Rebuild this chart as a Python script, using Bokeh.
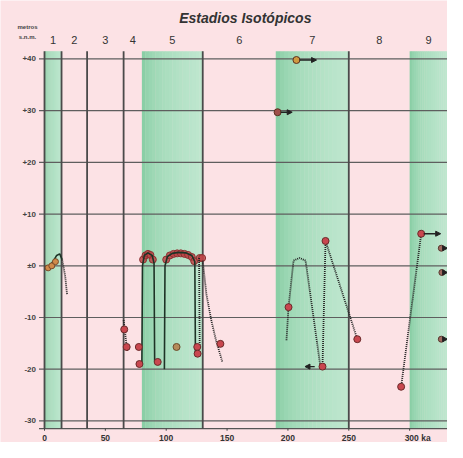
import numpy as np
from bokeh.plotting import figure
from bokeh.models import ColumnDataSource, Arrow, NormalHead
from bokeh.core.properties import value
from bokeh.embed import file_html
from bokeh.resources import INLINE

# ---------------- data ----------------
stage_labels = ["1", "2", "3", "4", "5", "6", "7", "8", "9"]
stage_bounds = [0, 14, 35, 65, 80, 130, 190, 250, 300, 331]
warm_start = [0, 80, 190, 300]
warm_end = [14, 130, 250, 331.2]
boundary_lines = [0, 14, 35, 65, 130, 250]

y_ticks = [40, 30, 20, 10, 0, -10, -20, -30]
y_tick_labels = ["+40", "+30", "+20", "+10", "±0", "-10", "-20", "-30"]
x_ticks = [0, 50, 100, 150, 200, 250, 300]
x_tick_labels = ["0", "50", "100", "150", "200", "250", "300 ka"]

# stage 1
s1_line_ka = [1, 4, 7, 10, 12.5, 14.5]
s1_line_m = [-0.3, 0.0, 0.8, 2.0, 2.3, 1.2]
s1_drop_ka = [14.5, 17, 18.5]
s1_drop_m = [1.2, -2.0, -5.5]
s1_pts_ka = [3, 6, 9]
s1_pts_m = [-0.4, 0.0, 0.8]

# stage 4
s4_drop_ka = [65, 66.5, 68]
s4_drop_m = [-10.5, -13.5, -16.5]
s4_pts_ka = [65.5, 67.5]
s4_pts_m = [-12.3, -15.7]

# stage 5
s5a_ka = [80, 80.5, 82, 85, 88.5, 90, 90.5]
s5a_m = [-19, 0, 2.0, 2.5, 2.0, 0.5, -18.5]
s5b_ka = [98.5, 99, 101, 105, 110, 116, 121, 123.5, 124]
s5b_m = [-20, 0, 1.8, 2.4, 2.6, 2.5, 2.0, 0.8, -17]
s5c_ka = [127, 127.5]
s5c_m = [1.5, -15.5]
s56_ka = [130, 133, 137, 141, 146]
s56_m = [1.0, -5.5, -10.5, -14.5, -18.5]
s5_cap_ka = [81, 83, 85, 87, 89, 100, 103, 106, 109, 112, 115, 118, 121, 123, 127.5, 129.5]
s5_cap_m = [1.2, 2.0, 2.3, 2.1, 1.2, 1.2, 2.0, 2.3, 2.4, 2.4, 2.3, 2.1, 1.7, 0.9, 1.5, 1.5]
s5_pts_ka = [77.5, 78, 93, 125.5, 125.8, 144.5]
s5_pts_m = [-15.7, -19, -18.6, -15.7, -17, -15.1]
s5_tan_ka = [108.5]
s5_tan_m = [-15.7]

# stage 7
s7_ka = [198.8, 200.5, 204.6, 209.5, 214.5, 226.8, 228.4, 230.9, 257]
s7_m = [-14.4, -8, 1, 1.5, 1, -19.7, -19.5, 4.8, -14.2]
s7_pts_ka = [200.5, 228.4, 230.9, 257]
s7_pts_m = [-8, -19.5, 4.8, -14.2]
hi_ka = [191.5, 207]
hi_m = [29.7, 39.8]
hi_arrow_end = [203.5, 223.5]
low_arrow_ka = [222, 214]
low_arrow_m = -19.5

# stage 9
s9_ka = [293, 309.5]
s9_m = [-23.4, 6.2]
s9_arrow_end = 325.5
edge_ka = [326, 326.5, 326]
edge_m = [3.4, -1.3, -14.2]
edge_arrow_end = 331.2

# ---------------- layout constants ----------------
PINK = "#fce2e5"
Y_BOTTOM = -31.5
BAND_TOP = 41.5
GRID_X0 = -4.5
GRID_X1 = 331.2
FONT = value("Liberation Sans")

p = figure(width=447, height=442, x_range=(-36.15, 331.1), y_range=(-34.18, 51.31),
           output_backend="svg", toolbar_location=None,
           min_border_left=0, min_border_right=0, min_border_top=0, min_border_bottom=0)
p.background_fill_color = PINK
p.border_fill_color = PINK
p.outline_line_color = None
p.xgrid.visible = False
p.ygrid.visible = False
p.xaxis.visible = False
p.yaxis.visible = False


def hex2rgb(h):
    return np.array([int(h[i:i + 2], 16) for i in (1, 3, 5)], dtype=float)


c0 = hex2rgb("#7ac899")
c1 = hex2rgb("#bfe7cf")
L, R, C = [], [], []
for a, b in zip(warm_start, warm_end):
    n = 18
    edges = np.linspace(a, b, n + 1)
    for i in range(n):
        t = ((i + 0.5) / n) ** 0.4
        col = c0 + (c1 - c0) * t
        L.append(edges[i])
        R.append(edges[i + 1] + 0.3)
        C.append("#%02x%02x%02x" % tuple(int(round(v)) for v in col))
p.quad(left=L, right=R, bottom=Y_BOTTOM, top=BAND_TOP, fill_color=C, line_color=None)

# grid lines
p.segment(x0=[GRID_X0] * len(y_ticks), x1=[GRID_X1] * len(y_ticks), y0=y_ticks, y1=y_ticks,
          line_color="#5e5e5e", line_width=1.2)
p.segment(x0=[GRID_X0], x1=[GRID_X1], y0=[Y_BOTTOM], y1=[Y_BOTTOM], line_color="#555555", line_width=1.3)
p.segment(x0=boundary_lines, x1=boundary_lines, y0=[Y_BOTTOM] * len(boundary_lines),
          y1=[BAND_TOP] * len(boundary_lines), line_color="#4a4a4a", line_width=1.8)
# x ticks
p.segment(x0=x_ticks, x1=x_ticks, y0=[Y_BOTTOM] * len(x_ticks), y1=[Y_BOTTOM - 0.4] * len(x_ticks),
          line_color="#444444", line_width=1)

# y tick labels
p.text(x=[-7] * len(y_ticks), y=y_ticks, text=y_tick_labels, text_font=FONT, text_font_size="8px",
       text_font_style="bold", text_color="#444444", text_align="right", text_baseline="middle")
p.text(x=[-14, -14], y=[46.2, 44.3], text=["metros", "s.n.m."], text_font=FONT, text_font_size="6px",
       text_font_style="bold", text_color="#444444", text_align="center", text_baseline="middle")
# x tick labels
p.text(x=x_ticks, y=[-33.3] * len(x_ticks), text=x_tick_labels, text_font=FONT, text_font_size="8.5px",
       text_font_style="bold", text_color="#333333", text_align="center", text_baseline="alphabetic",
       x_offset=[0, 0, 0, 0, 0, 0, 8])

# stage labels and title
centers = [(a + b) / 2 for a, b in zip(stage_bounds[:-1], stage_bounds[1:])]
p.text(x=centers, y=[43.7] * len(centers), text=stage_labels, text_font=FONT, text_font_size="11px",
       text_color="#333333", text_align="center", text_baseline="middle")
p.text(x=[165], y=[47.9], text=["Estadios Isotópicos"], text_font=FONT, text_font_size="14px",
       text_font_style="bold italic", text_color="#333333", text_align="center", text_baseline="middle")

DOT = dict(line_color="#222222", line_dash="1 1", line_width=1.8)
SOLID = dict(line_color="#1d3326", line_width=1.6)
RED = dict(size=7, fill_color="#c9474f", line_color="#6b2a2a", line_width=1)

# red caps (under solid lines)
p.scatter(s5_cap_ka, s5_cap_m, size=7, fill_color="#c04548", line_color="#8a3030", fill_alpha=0.85)

p.line(s1_line_ka, s1_line_m, **SOLID)
p.line(s1_drop_ka, s1_drop_m, **DOT)
p.line(s4_drop_ka, s4_drop_m, **DOT)
p.line(s5a_ka, s5a_m, **SOLID)
p.line(s5b_ka, s5b_m, **SOLID)
p.line(s5c_ka, s5c_m, **DOT)
p.line(s56_ka, s56_m, **DOT)
p.line(s7_ka, s7_m, **DOT)
p.line(s9_ka, s9_m, **DOT)

p.scatter(s1_pts_ka, s1_pts_m, size=6, fill_color="#d08a4a", line_color="#7a4a2a")
p.scatter(s4_pts_ka, s4_pts_m, **RED)
p.scatter(s5_pts_ka, s5_pts_m, **RED)
p.scatter(s5_tan_ka, s5_tan_m, size=7, fill_color="#b58a5a", line_color="#6b4a2a")
p.scatter(s7_pts_ka, s7_pts_m, **RED)
p.scatter(s9_ka, s9_m, **RED)
p.scatter(hi_ka, hi_m, size=7, fill_color=["#a0504a", "#d09a40"], line_color="#5a3020")
p.scatter(edge_ka, edge_m, size=6, fill_color="#a06a60", line_color="#5a3a30")

# arrows
ax0 = [k + 2.5 for k in hi_ka] + [s9_ka[1] + 2.0] + [k + 1.8 for k in edge_ka] + [low_arrow_ka[0]]
ax1 = hi_arrow_end + [s9_arrow_end] + [edge_arrow_end] * len(edge_ka) + [low_arrow_ka[1]]
ay = hi_m + [s9_m[1]] + edge_m + [low_arrow_m]
src = ColumnDataSource(dict(x0=ax0, x1=ax1, y0=ay, y1=ay))
p.add_layout(Arrow(end=NormalHead(size=5, fill_color="#222222", line_color="#222222"),
                   x_start="x0", y_start="y0", x_end="x1", y_end="y1", source=src,
                   line_color="#222222", line_width=1.3))

open("out.html", "w").write(file_html(p, INLINE))
